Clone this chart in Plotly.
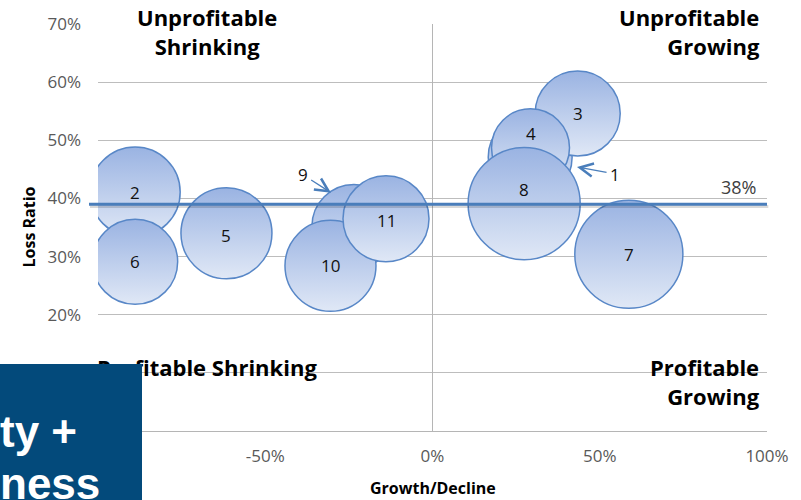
import plotly.graph_objects as go

# ---------------- data ----------------
segments = ["1", "2", "3", "4", "5", "6", "7", "8", "9", "10", "11"]
growth = [0.292, -0.889, 0.434, 0.293, -0.616, -0.889, 0.587, 0.274, -0.235, -0.305, -0.139]
loss_ratio = [0.471, 0.411, 0.546, 0.487, 0.340, 0.291, 0.304, 0.391, 0.352, 0.284, 0.365]
premium = [17.6, 20.3, 18.1, 15.2, 20.7, 18.1, 29.2, 31.4, 17.6, 20.7, 18.5]
avg_loss_ratio = 0.39
avg_label = "38%"
x_ticks = [-1.0, -0.5, 0.0, 0.5, 1.0]
x_tick_labels = ["-100%", "-50%", "0%", "50%", "100%"]
y_ticks = [0.0, 0.1, 0.2, 0.3, 0.4, 0.5, 0.6, 0.7]
y_tick_labels = ["0%", "10%", "20%", "30%", "40%", "50%", "60%", "70%"]

# ---------------- layout helpers ----------------
W, H = 801, 500
ML, MR, MT, MB = 98, 34, 21, 69
PW, PH = W - ML - MR, H - MT - MB


def px(x):
    return (x - ML) / PW


def py(y):
    return (H - MB - y) / PH


FONT = "Open Sans"
BUBBLE_TOP = "#9ab3e2"
BUBBLE_BOTTOM = "#e0e8f6"
EDGE = "#5887c7"
LINE = "#4a7ebb"

fig = go.Figure()
fig.add_trace(go.Scatter(
    x=growth, y=loss_ratio, mode="markers",
    marker=dict(size=premium, sizemode="area", sizeref=0.005,
                color=BUBBLE_TOP,
                gradient=dict(type="vertical", color=BUBBLE_BOTTOM),
                line=dict(color=EDGE, width=1.5), opacity=1),
    hoverinfo="skip", showlegend=False, cliponaxis=True,
))

annotations = []
# labels inside bubbles (1 and 9 are labelled outside with arrows)
label_shift = {"4": 14, "8": 14, "5": -2, "11": -2}
for s, gx, lr in zip(segments, growth, loss_ratio):
    if s in ("1", "9"):
        continue
    annotations.append(dict(x=gx, y=lr, xref="x", yref="y", text=s, showarrow=False,
                            yshift=label_shift.get(s, 0),
                            font=dict(family=FONT, size=17, color="#111111")))

arrow_style = dict(showarrow=True, arrowhead=5, arrowsize=2.0, arrowwidth=1.3,
                   arrowcolor=LINE, standoff=0, startstandoff=2,
                   font=dict(family=FONT, size=17, color="#111111"))
annotations.append(dict(x=-0.3034, y=0.4098, xref="x", yref="y", text="9",
                        ax=-28, ay=-18, **arrow_style))
annotations.append(dict(x=0.432, y=0.454, xref="x", yref="y", text="1",
                        ax=38, ay=7, **arrow_style))

# average line label
annotations.append(dict(x=px(758), y=py(185), xref="paper", yref="paper", text=avg_label,
                        showarrow=False, xanchor="right", yanchor="middle",
                        font=dict(family=FONT, size=18, color="#404040")))

qfont = dict(family=FONT, size=22, color="#000000")
annotations += [
    dict(x=px(207), y=py(-3), xref="paper", yref="paper", text="<b>Unprofitable<br>Shrinking</b>",
         showarrow=False, xanchor="center", yanchor="top", align="center", font=qfont),
    dict(x=px(762), y=py(-3), xref="paper", yref="paper", text="<b>Unprofitable<br>Growing</b>",
         showarrow=False, xanchor="right", yanchor="top", align="right", font=qfont),
    dict(x=px(762), y=py(349), xref="paper", yref="paper", text="<b>Profitable<br>Growing</b>",
         showarrow=False, xanchor="right", yanchor="top", align="right", font=qfont),
    dict(x=px(95), y=py(367), xref="paper", yref="paper", text="<b>Profitable Shrinking</b>",
         showarrow=False, xanchor="left", yanchor="middle", align="left", font=qfont),
]

# axis titles
tfont = dict(family=FONT, size=16, color="#000000")
annotations += [
    dict(x=0.5, y=py(488), xref="paper", yref="paper", text="<b>Growth/Decline</b>",
         showarrow=False, xanchor="center", yanchor="middle", font=tfont),
    dict(x=px(28), y=py(226), xref="paper", yref="paper", text="<b>Loss Ratio</b>",
         showarrow=False, xanchor="center", yanchor="middle", textangle=-90, font=tfont),
]

# slide overlay box in the lower-left corner
annotations.append(dict(x=px(0), y=py(364), xref="paper", yref="paper", text=" ",
                        showarrow=False, xanchor="left", yanchor="top",
                        width=142, height=140, bgcolor="#034a7b", borderpad=0, borderwidth=0))
bfont = dict(family="Liberation Sans", size=44, color="#ffffff")
annotations += [
    dict(x=px(-2), y=py(432), xref="paper", yref="paper", text="<b>ty +</b>",
         showarrow=False, xanchor="left", yanchor="middle", font=bfont),
    dict(x=px(-2), y=py(484), xref="paper", yref="paper", text="<b>ness</b>",
         showarrow=False, xanchor="left", yanchor="middle", font=bfont),
]

shadow_y = avg_loss_ratio - 2.2 / PH * 0.7
shapes = [
    dict(type="line", xref="paper", yref="y", x0=px(90), x1=1.002,
         y0=shadow_y, y1=shadow_y, layer="above",
         line=dict(color="rgba(0,0,0,0.15)", width=3)),
    dict(type="line", xref="paper", yref="y", x0=px(89), x1=1.0,
         y0=avg_loss_ratio, y1=avg_loss_ratio, layer="above",
         line=dict(color=LINE, width=3)),
]

fig.update_layout(
    width=W, height=H,
    margin=dict(l=ML, r=MR, t=MT, b=MB, pad=0),
    paper_bgcolor="white", plot_bgcolor="white",
    font=dict(family=FONT, size=17, color="#595959"),
    xaxis=dict(range=[-1, 1], tickvals=x_ticks, ticktext=x_tick_labels,
               showgrid=False, zeroline=True, zerolinecolor="#b5b5b5", zerolinewidth=1,
               showline=False, ticks="", ticklabelstandoff=13,
               tickfont=dict(family=FONT, size=17, color="#595959")),
    yaxis=dict(range=[0, 0.7], tickvals=y_ticks, ticktext=y_tick_labels,
               showgrid=True, gridcolor="#bdbdbd", gridwidth=1,
               zeroline=True, zerolinecolor="#b5b5b5", zerolinewidth=1,
               showline=False, ticks="", ticklabelstandoff=16,
               tickfont=dict(family=FONT, size=17, color="#595959")),
    annotations=annotations,
    shapes=shapes,
    showlegend=False,
)

fig.write_html("out.html")
